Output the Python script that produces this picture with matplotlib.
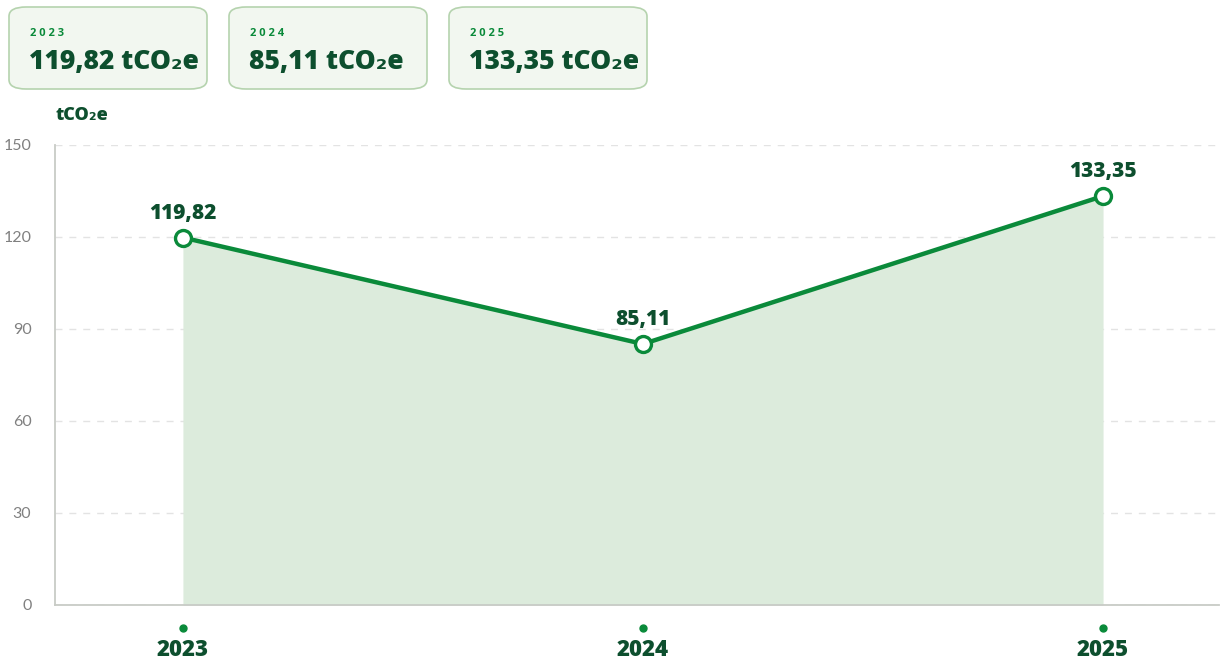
import matplotlib.pyplot as plt
import matplotlib.transforms as mtransforms
from matplotlib.patches import FancyBboxPatch

years = ["2023", "2024", "2025"]
values = [119.82, 85.11, 133.35]
value_labels = ["119,82", "85,11", "133,35"]
yticks = [0, 30, 60, 90, 120, 150]
unit = "tCO₂e"

line_green = "#0a8a3a"
dark_green = "#0d4f2e"
fill_green = "#dcebdc"
fonts = ["Open Sans", "DejaVu Sans"]
light_fonts = ["Lato", "DejaVu Sans"]

W, H = 1220, 663
fig = plt.figure(figsize=(W / 100, H / 100), dpi=100)
ax = fig.add_axes([55 / W, 1 - 605 / H, (1219 - 55) / W, (605 - 145) / H])

x = list(range(len(years)))
ax.fill_between(x, values, 0, color=fill_green, lw=0, zorder=1)
ax.plot(x, values, color=line_green, lw=3.2, zorder=3)
ax.plot(x, values, "o", ms=11.5, mfc="white", mec=line_green, mew=2.4, zorder=4)
for xi, v, lab in zip(x, values, value_labels):
    ax.annotate(lab, (xi, v), xytext=(0, 10), textcoords="offset points",
                ha="center", va="bottom", fontsize=15, fontweight=800,
                color=dark_green, family=fonts)

ax.set_xlim(-0.278, 2.252)
ax.set_ylim(0, 150)
ax.set_yticks(yticks)
ax.set_yticklabels([str(t) for t in yticks], color="#808080", fontsize=11.5, family=light_fonts)
ax.tick_params(axis="y", length=0, pad=17)
ax.set_xticks([])
ax.yaxis.grid(True, color="#e3e3e3", ls=(0, (5, 5)), lw=1)
ax.set_axisbelow(True)
for s in ["top", "right"]:
    ax.spines[s].set_visible(False)
for s in ["left", "bottom"]:
    ax.spines[s].set_color("#c8cbc6")
    ax.spines[s].set_linewidth(1.3)

# year labels with dots below the axis
trans = mtransforms.blended_transform_factory(ax.transData, fig.transFigure)
for xi, yr in zip(x, years):
    ax.plot([xi], [1 - 628 / H], "o", ms=5, color=line_green, transform=trans, clip_on=False)
    ax.text(xi, 1 - 650 / H, yr, transform=trans, ha="center", va="center",
            fontsize=16, fontweight=800, color=dark_green, family=fonts)

fig.text(55 / W, 1 - 115 / H, unit, ha="left", va="center", fontsize=13,
         fontweight=800, color=dark_green, family=fonts)

# summary boxes on top
box_left = [9, 229, 449]
for bx, yr, lab in zip(box_left, years, value_labels):
    p = FancyBboxPatch((bx / W, 1 - 89 / H), 198 / W, 82 / H,
                       boxstyle="round,pad=0,rounding_size=0.014",
                       transform=fig.transFigure, fc="#f2f7f0", ec="#b5d3ae", lw=1.2)
    fig.add_artist(p)
    fig.text((bx + 21) / W, 1 - 34 / H, " ".join(yr), ha="left", va="center", fontsize=8,
             fontweight="bold", color=line_green, family=fonts)
    fig.text((bx + 20) / W, 1 - 62 / H, lab + " " + unit, ha="left", va="center",
             fontsize=19, fontweight=800, color=dark_green, family=fonts)

fig.savefig("out.png", dpi=100)
